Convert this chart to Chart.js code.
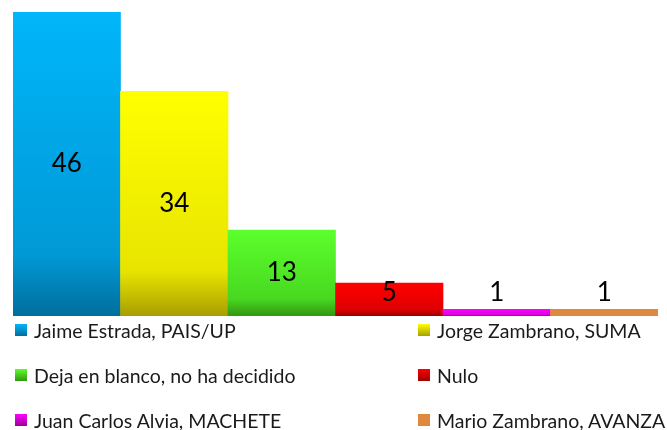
<!DOCTYPE html>
<html>
<head>
<meta charset="utf-8">
<script src="https://cdn.jsdelivr.net/npm/chart.js@4"></script>
<style>
    body { margin: 0; background: #fff; font-family: Lato, sans-serif; overflow: hidden; }
    #wrap { position: relative; width: 667px; height: 430px; }
    #chartBox { position: absolute; left: 0; top: 0; width: 667px; height: 318px; }
    #legend { position: absolute; left: 15px; top: 317px; width: 652px; display: grid;
              grid-template-columns: 403px 249px; grid-auto-rows: 45px; }
    .item { display: flex; align-items: center; height: 26px; font-size: 19.5px; color: #1a1a1a; white-space: nowrap; }
    .box { width: 12px; height: 12px; margin-right: 7px; flex: none; }
</style>
</head>
<body>
<div id="wrap">
    <div id="chartBox"><canvas id="votesChart"></canvas></div>
    <div id="legend"></div>
</div>
<script>
// Chart data
const categories = ['Jaime Estrada, PAIS/UP', 'Jorge Zambrano, SUMA', 'Deja en blanco, no ha decidido',
                    'Nulo', 'Juan Carlos Alvia, MACHETE', 'Mario Zambrano, AVANZA'];
const votes = [46, 34, 13, 5, 1, 1];
const topColors = ['#00b6fa', '#ffff00', '#5cff2c', '#ff0000', '#ff00ff', '#e0883e'];
const midColors = ['#0099d6', '#e8e400', '#48d820', '#e00000', '#dd00dd', '#e0883e'];
const bottomColors = ['#006e9c', '#a89e00', '#339612', '#9c0000', '#9a009a', '#e0883e'];

// Per-bar vertical gradient
function barColor(context) {
    const chart = context.chart;
    const i = context.dataIndex;
    if (!chart.chartArea) return topColors[i];
    const y = chart.scales.y;
    const top = y.getPixelForValue(votes[i]);
    const base = y.getPixelForValue(0);
    if (base - top < 1) return topColors[i];
    const g = chart.ctx.createLinearGradient(0, top, 0, base);
    g.addColorStop(0, topColors[i]);
    g.addColorStop(0.8, midColors[i]);
    g.addColorStop(1, bottomColors[i]);
    return g;
}

// Value labels inside bars (or just above the short ones)
const valueLabels = {
    id: 'valueLabels',
    afterDatasetsDraw(chart) {
        const ctx = chart.ctx;
        const meta = chart.getDatasetMeta(0);
        ctx.save();
        ctx.font = '26px Lato';
        ctx.fillStyle = '#000';
        ctx.textAlign = 'center';
        ctx.textBaseline = 'middle';
        meta.data.forEach((bar, i) => {
            const center = (bar.y + bar.base) / 2;
            const y = Math.min(center, bar.base - 23);
            ctx.fillText(votes[i], bar.x, y);
        });
        ctx.restore();
    }
};

new Chart(document.getElementById('votesChart'), {
    type: 'bar',
    data: {
        labels: categories,
        datasets: [{
            data: votes,
            backgroundColor: barColor,
            borderWidth: 0,
            barPercentage: 1,
            categoryPercentage: 1
        }]
    },
    options: {
        responsive: true,
        maintainAspectRatio: false,
        animation: false,
        layout: { padding: { left: 13, right: 9, top: 12, bottom: 2 } },
        scales: {
            x: { display: false },
            y: { display: false, min: 0, max: 46 }
        },
        plugins: {
            legend: { display: false },
            tooltip: { enabled: false }
        }
    },
    plugins: [valueLabels]
});

// HTML legend, two columns
document.getElementById('legend').innerHTML = categories.map((name, i) => `
    <div class="item">
        <span class="box" style="background: linear-gradient(${topColors[i]}, ${bottomColors[i]});"></span>${name}
    </div>
`).join('');
</script>
</body>
</html>
